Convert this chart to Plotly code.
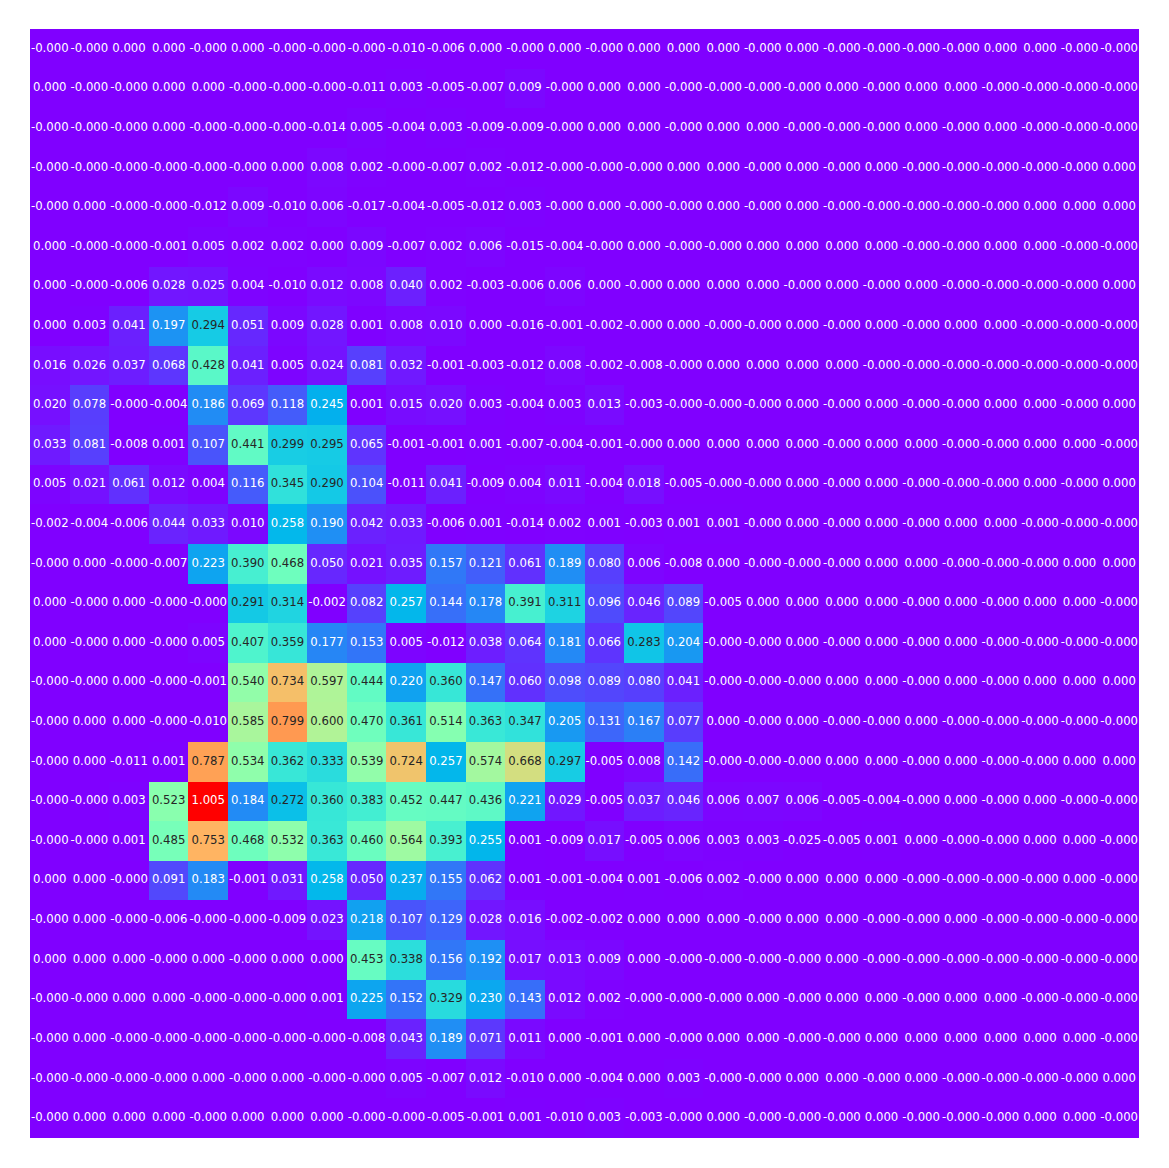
import numpy as np
import plotly.graph_objects as go

# 28x28 attribution map (row 0 at top). -0.0 marks values that display as "-0.000"
attribution = [
    [-0.0,-0.0,0.0,0.0,-0.0,0.0,-0.0,-0.0,-0.0,-0.010,-0.006,0.0,-0.0,0.0,-0.0,0.0,0.0,0.0,-0.0,0.0,-0.0,-0.0,-0.0,-0.0,0.0,0.0,-0.0,-0.0],
    [0.0,-0.0,-0.0,0.0,0.0,-0.0,-0.0,-0.0,-0.011,0.003,-0.005,-0.007,0.009,-0.0,0.0,0.0,-0.0,-0.0,-0.0,-0.0,0.0,-0.0,0.0,0.0,-0.0,-0.0,-0.0,-0.0],
    [-0.0,-0.0,-0.0,0.0,-0.0,-0.0,-0.0,-0.014,0.005,-0.004,0.003,-0.009,-0.009,-0.0,0.0,0.0,-0.0,0.0,0.0,-0.0,-0.0,-0.0,0.0,-0.0,0.0,-0.0,-0.0,-0.0],
    [-0.0,-0.0,-0.0,-0.0,-0.0,-0.0,0.0,0.008,0.002,-0.0,-0.007,0.002,-0.012,-0.0,-0.0,-0.0,0.0,0.0,-0.0,0.0,-0.0,0.0,-0.0,-0.0,-0.0,-0.0,-0.0,0.0],
    [-0.0,0.0,-0.0,-0.0,-0.012,0.009,-0.010,0.006,-0.017,-0.004,-0.005,-0.012,0.003,-0.0,0.0,-0.0,-0.0,0.0,-0.0,0.0,-0.0,-0.0,-0.0,-0.0,-0.0,0.0,0.0,0.0],
    [0.0,-0.0,-0.0,-0.001,0.005,0.002,0.002,0.0,0.009,-0.007,0.002,0.006,-0.015,-0.004,-0.0,0.0,-0.0,-0.0,0.0,0.0,0.0,0.0,-0.0,-0.0,0.0,0.0,-0.0,-0.0],
    [0.0,-0.0,-0.006,0.028,0.025,0.004,-0.010,0.012,0.008,0.040,0.002,-0.003,-0.006,0.006,0.0,-0.0,0.0,0.0,0.0,-0.0,0.0,-0.0,0.0,-0.0,-0.0,-0.0,-0.0,0.0],
    [0.0,0.003,0.041,0.197,0.294,0.051,0.009,0.028,0.001,0.008,0.010,0.0,-0.016,-0.001,-0.002,-0.0,0.0,-0.0,-0.0,0.0,-0.0,0.0,-0.0,0.0,0.0,-0.0,-0.0,-0.0],
    [0.016,0.026,0.037,0.068,0.428,0.041,0.005,0.024,0.081,0.032,-0.001,-0.003,-0.012,0.008,-0.002,-0.008,-0.0,0.0,0.0,0.0,0.0,-0.0,-0.0,-0.0,-0.0,-0.0,-0.0,-0.0],
    [0.020,0.078,-0.0,-0.004,0.186,0.069,0.118,0.245,0.001,0.015,0.020,0.003,-0.004,0.003,0.013,-0.003,-0.0,-0.0,-0.0,0.0,-0.0,0.0,-0.0,-0.0,0.0,0.0,-0.0,0.0],
    [0.033,0.081,-0.008,0.001,0.107,0.441,0.299,0.295,0.065,-0.001,-0.001,0.001,-0.007,-0.004,-0.001,-0.0,0.0,0.0,0.0,0.0,-0.0,0.0,0.0,-0.0,-0.0,0.0,0.0,-0.0],
    [0.005,0.021,0.061,0.012,0.004,0.116,0.345,0.290,0.104,-0.011,0.041,-0.009,0.004,0.011,-0.004,0.018,-0.005,-0.0,-0.0,0.0,-0.0,0.0,-0.0,-0.0,-0.0,0.0,-0.0,0.0],
    [-0.002,-0.004,-0.006,0.044,0.033,0.010,0.258,0.190,0.042,0.033,-0.006,0.001,-0.014,0.002,0.001,-0.003,0.001,0.001,-0.0,0.0,-0.0,0.0,-0.0,0.0,0.0,-0.0,-0.0,-0.0],
    [-0.0,0.0,-0.0,-0.007,0.223,0.390,0.468,0.050,0.021,0.035,0.157,0.121,0.061,0.189,0.080,0.006,-0.008,0.0,-0.0,-0.0,-0.0,0.0,0.0,-0.0,-0.0,-0.0,0.0,0.0],
    [0.0,-0.0,0.0,-0.0,-0.0,0.291,0.314,-0.002,0.082,0.257,0.144,0.178,0.391,0.311,0.096,0.046,0.089,-0.005,0.0,0.0,0.0,0.0,-0.0,0.0,-0.0,0.0,0.0,-0.0],
    [0.0,-0.0,0.0,-0.0,0.005,0.407,0.359,0.177,0.153,0.005,-0.012,0.038,0.064,0.181,0.066,0.283,0.204,-0.0,-0.0,0.0,-0.0,0.0,-0.0,0.0,-0.0,-0.0,-0.0,-0.0],
    [-0.0,-0.0,0.0,-0.0,-0.001,0.540,0.734,0.597,0.444,0.220,0.360,0.147,0.060,0.098,0.089,0.080,0.041,-0.0,-0.0,-0.0,0.0,0.0,-0.0,0.0,-0.0,0.0,0.0,0.0],
    [-0.0,0.0,0.0,-0.0,-0.010,0.585,0.799,0.600,0.470,0.361,0.514,0.363,0.347,0.205,0.131,0.167,0.077,0.0,-0.0,0.0,-0.0,-0.0,0.0,-0.0,-0.0,-0.0,-0.0,-0.0],
    [-0.0,0.0,-0.011,0.001,0.787,0.534,0.362,0.333,0.539,0.724,0.257,0.574,0.668,0.297,-0.005,0.008,0.142,-0.0,-0.0,-0.0,0.0,0.0,-0.0,0.0,-0.0,-0.0,0.0,0.0],
    [-0.0,-0.0,0.003,0.523,1.005,0.184,0.272,0.360,0.383,0.452,0.447,0.436,0.221,0.029,-0.005,0.037,0.046,0.006,0.007,0.006,-0.005,-0.004,-0.0,0.0,-0.0,0.0,-0.0,-0.0],
    [-0.0,-0.0,0.001,0.485,0.753,0.468,0.532,0.363,0.460,0.564,0.393,0.255,0.001,-0.009,0.017,-0.005,0.006,0.003,0.003,-0.025,-0.005,0.001,0.0,-0.0,-0.0,0.0,0.0,-0.0],
    [0.0,0.0,-0.0,0.091,0.183,-0.001,0.031,0.258,0.050,0.237,0.155,0.062,0.001,-0.001,-0.004,0.001,-0.006,0.002,-0.0,0.0,0.0,0.0,-0.0,-0.0,-0.0,-0.0,0.0,-0.0],
    [-0.0,0.0,-0.0,-0.006,-0.0,-0.0,-0.009,0.023,0.218,0.107,0.129,0.028,0.016,-0.002,-0.002,0.0,0.0,0.0,-0.0,0.0,0.0,-0.0,-0.0,0.0,-0.0,-0.0,-0.0,-0.0],
    [0.0,0.0,0.0,-0.0,0.0,-0.0,0.0,0.0,0.453,0.338,0.156,0.192,0.017,0.013,0.009,0.0,-0.0,-0.0,-0.0,-0.0,0.0,-0.0,-0.0,-0.0,-0.0,-0.0,-0.0,-0.0],
    [-0.0,-0.0,0.0,0.0,-0.0,-0.0,-0.0,0.001,0.225,0.152,0.329,0.230,0.143,0.012,0.002,-0.0,-0.0,-0.0,0.0,-0.0,0.0,0.0,-0.0,0.0,0.0,-0.0,-0.0,-0.0],
    [-0.0,0.0,-0.0,-0.0,-0.0,-0.0,-0.0,-0.0,-0.008,0.043,0.189,0.071,0.011,0.0,-0.001,0.0,-0.0,0.0,0.0,-0.0,-0.0,0.0,0.0,0.0,0.0,0.0,0.0,-0.0],
    [-0.0,-0.0,-0.0,-0.0,0.0,-0.0,0.0,-0.0,-0.0,0.005,-0.007,0.012,-0.010,0.0,-0.004,0.0,0.003,-0.0,-0.0,0.0,0.0,-0.0,0.0,-0.0,-0.0,-0.0,-0.0,0.0],
    [-0.0,0.0,0.0,0.0,-0.0,0.0,0.0,0.0,-0.0,-0.0,-0.005,-0.001,0.001,-0.010,0.003,-0.003,-0.0,0.0,-0.0,-0.0,-0.0,0.0,-0.0,-0.0,-0.0,0.0,0.0,-0.0],
]

n_rows = len(attribution)
n_cols = len(attribution[0])
cols = list(range(n_cols))
rows = list(range(n_rows))

z = np.array(attribution, dtype=float)
zmin = 0.0
zmax = float(z.max())


def rainbow(t):
    t = np.clip(t, 0.0, 1.0)
    r = np.clip(np.abs(2 * t - 0.5), 0, 1)
    g = np.clip(np.sin(np.pi * t), 0, 1)
    b = np.clip(np.cos(np.pi * t / 2), 0, 1)
    return r, g, b


stops = np.linspace(0, 1, 65)
colorscale = []
for s in stops:
    r, g, b = rainbow(s)
    colorscale.append([float(s), f"rgb({int(round(r*255))},{int(round(g*255))},{int(round(b*255))})"])


def lum(r, g, b):
    out = []
    for c in (r, g, b):
        out.append(c / 12.92 if c <= 0.03928 else ((c + 0.055) / 1.055) ** 2.4)
    return 0.2126 * out[0] + 0.7152 * out[1] + 0.0722 * out[2]


tx, ty, tt, tc = [], [], [], []
for i in rows:
    for j in cols:
        v = attribution[i][j]
        t = (v - zmin) / (zmax - zmin)
        r, g, b = rainbow(t)
        L = lum(float(r), float(g), float(b))
        tx.append(j)
        ty.append(i)
        tt.append(f"{v:.3f}")
        tc.append("rgb(38,38,38)" if L > 0.408 else "rgb(255,255,255)")

fig = go.Figure()
fig.add_trace(go.Heatmap(
    z=z, x=cols, y=rows, zmin=zmin, zmax=zmax,
    colorscale=colorscale, showscale=False, hoverinfo="skip",
))
fig.add_trace(go.Scatter(
    x=tx, y=ty, mode="text", text=tt,
    textfont=dict(family="DejaVu Sans", size=11.7, color=tc),
    textposition="middle center", hoverinfo="skip", showlegend=False,
))
fig.update_layout(
    width=1153, height=1152,
    margin=dict(l=22, r=22, t=21, b=22),
    paper_bgcolor="white", plot_bgcolor="white",
    showlegend=False,
)
fig.update_xaxes(visible=False, range=[-0.5, n_cols - 0.5], showgrid=False, zeroline=False)
fig.update_yaxes(visible=False, range=[n_rows - 0.5, -0.5], showgrid=False, zeroline=False)
fig.write_html("out.html")
